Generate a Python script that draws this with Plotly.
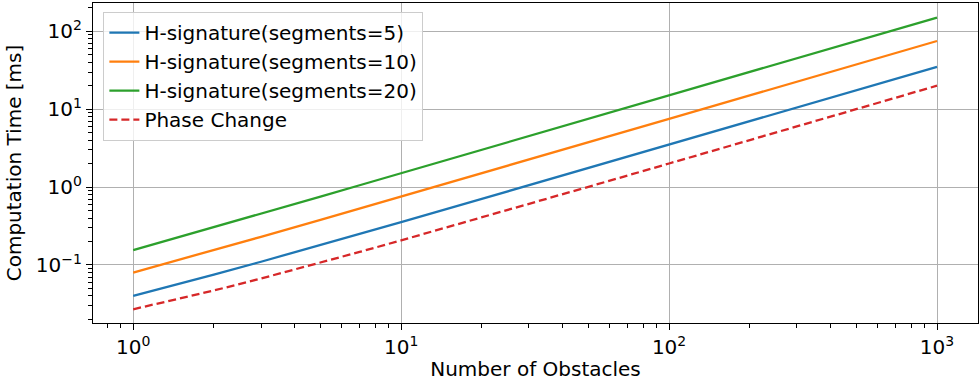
import plotly.graph_objects as go

obstacles = [1, 1.5, 2, 3, 5, 7, 10, 20, 50, 100, 200, 500, 1000]
seg5 = [0.040, 0.0575, 0.075, 0.110, 0.180, 0.250, 0.355, 0.705, 1.755, 3.505, 7.005, 17.5, 35.0]
seg10 = [0.080, 0.1175, 0.155, 0.230, 0.380, 0.530, 0.755, 1.505, 3.755, 7.505, 15.0, 37.5, 75.0]
seg20 = [0.155, 0.230, 0.305, 0.455, 0.755, 1.055, 1.505, 3.005, 7.505, 15.0, 30.0, 75.0, 150.0]
phase = [0.027, 0.037, 0.047, 0.067, 0.107, 0.147, 0.207, 0.407, 1.007, 2.007, 4.0, 10.0, 20.0]

x_tickvals = [1, 10, 100, 1000]
x_ticktext = ["10<sup>0</sup>", "10<sup>1</sup>", "10<sup>2</sup>", "10<sup>3</sup>"]
y_tickvals = [0.1, 1, 10, 100]
y_ticktext = ["10<sup>\u22121</sup>", "10<sup>0</sup>", "10<sup>1</sup>", "10<sup>2</sup>"]

series = [
    ("H-signature(segments=5)", seg5, "#1f77b4", "solid"),
    ("H-signature(segments=10)", seg10, "#ff7f0e", "solid"),
    ("H-signature(segments=20)", seg20, "#2ca02c", "solid"),
    ("Phase Change", phase, "#d62728", "8px,4px"),
]

FONT = "DejaVu Sans"

fig = go.Figure()
for i, (name, ys, color, dash) in enumerate(series):
    fig.add_trace(go.Scatter(
        x=obstacles, y=ys, mode="lines", name=name, legendgroup=f"g{i}",
        line=dict(color=color, width=2.3, dash=dash),
    ))

axis_common = dict(
    type="log", showline=True, linecolor="black", linewidth=1.2, mirror=True,
    showgrid=True, gridcolor="#b0b0b0", gridwidth=1.3,
    ticks="outside", ticklen=6, tickwidth=1.2, tickcolor="black",
    tickfont=dict(family=FONT, size=20, color="black"),
    zeroline=False,
    minor=dict(ticks="outside", ticklen=3.5, tickwidth=0.9, tickcolor="black",
               showgrid=False, dtick="D1"),
)

fig.update_xaxes(**axis_common, range=[-0.15, 3.153],
                 tickvals=x_tickvals, ticktext=x_ticktext,
                 title=dict(text="Number of Obstacles", standoff=6,
                            font=dict(family=FONT, size=20, color="black")))
fig.update_yaxes(**axis_common, range=[-1.745, 2.363],
                 tickvals=y_tickvals, ticktext=y_ticktext,
                 title=dict(text="Computation Time [ms]", standoff=8,
                            font=dict(family=FONT, size=20, color="black")))

fig.update_layout(
    width=980, height=381,
    margin=dict(l=93, r=2, t=3, b=58),
    paper_bgcolor="white", plot_bgcolor="white",
    font=dict(family=FONT, size=20, color="black"),
    legend=dict(
        x=0.0115, y=0.972, xanchor="left", yanchor="top",
        bgcolor="rgba(255,255,255,0.8)", bordercolor="#cccccc", borderwidth=1.2,
        font=dict(family=FONT, size=20, color="black"),
        tracegroupgap=5, traceorder="normal",
    ),
    showlegend=True,
)

fig.write_html("out.html")
